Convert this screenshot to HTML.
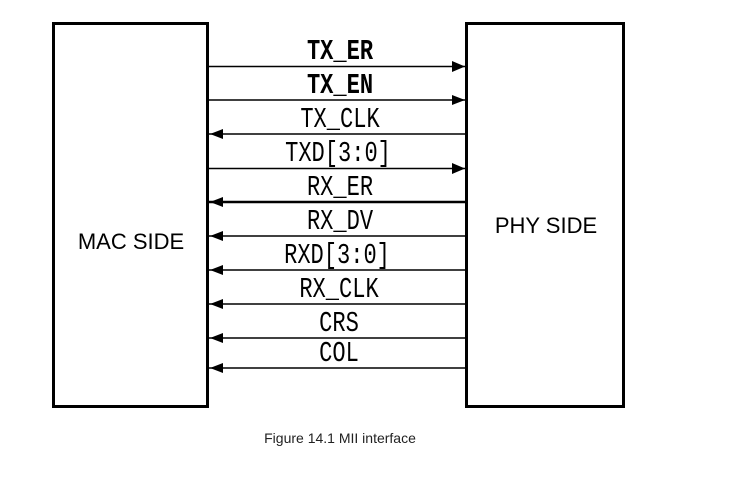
<!DOCTYPE html>
<html><head><meta charset="utf-8"><style>
html,body{margin:0;padding:0;background:#fff;}
</style></head><body>
<svg width="729" height="489" viewBox="0 0 729 489" xmlns="http://www.w3.org/2000/svg">
<rect x="53.5" y="23.5" width="154" height="383" fill="#fff" stroke="#000" stroke-width="3"/>
<rect x="466.5" y="23.5" width="157" height="383" fill="#fff" stroke="#000" stroke-width="3"/>
<text x="131" y="249" font-family="Liberation Sans, sans-serif" font-size="22" text-anchor="middle" fill="#000">MAC SIDE</text>
<text x="546" y="233" font-family="Liberation Sans, sans-serif" font-size="22" text-anchor="middle" fill="#000">PHY SIDE</text>
<g stroke="#000" stroke-width="1.5">
<line x1="208" y1="66.5" x2="465" y2="66.5"/>
<line x1="208" y1="100" x2="465" y2="100"/>
<line x1="208" y1="134" x2="465" y2="134"/>
<line x1="208" y1="168.5" x2="465" y2="168.5"/>
<line x1="208" y1="202" x2="465" y2="202" stroke-width="2.5"/>
<line x1="208" y1="236" x2="465" y2="236"/>
<line x1="208" y1="270" x2="465" y2="270"/>
<line x1="208" y1="304" x2="465" y2="304"/>
<line x1="208" y1="338" x2="465" y2="338"/>
<line x1="208" y1="368" x2="465" y2="368"/>
</g>
<g fill="#000">
<polygon points="452,61 465,66.5 452,72"/>
<polygon points="452,95 465,100 452,105"/>
<polygon points="223,129 210,134 223,139"/>
<polygon points="452,163 465,168.5 452,174"/>
<polygon points="223,197 210,202 223,207"/>
<polygon points="223,231 210,236 223,241"/>
<polygon points="223,265 210,270 223,275"/>
<polygon points="223,299 210,304 223,309"/>
<polygon points="223,333 210,338 223,343"/>
<polygon points="223,363 210,368 223,373"/>
</g>
<g font-family="Liberation Mono, monospace" font-size="21" text-anchor="middle" fill="#000">
<text transform="translate(340,59) scale(1.05,1.35)" font-weight="bold">TX_ER</text>
<text transform="translate(340,93) scale(1.05,1.35)" font-weight="bold">TX_EN</text>
<text transform="translate(340,127) scale(1.05,1.35)">TX_CLK</text>
<text transform="translate(338,161) scale(1.05,1.35)">TXD[3:0]</text>
<text transform="translate(340,195) scale(1.05,1.35)">RX_ER</text>
<text transform="translate(340,229) scale(1.05,1.35)">RX_DV</text>
<text transform="translate(337,263) scale(1.05,1.35)">RXD[3:0]</text>
<text transform="translate(339,297) scale(1.05,1.35)">RX_CLK</text>
<text transform="translate(339,331) scale(1.05,1.35)">CRS</text>
<text transform="translate(339,361) scale(1.05,1.35)">COL</text>
</g>
<text x="340" y="443" font-family="Liberation Sans, sans-serif" font-size="14" text-anchor="middle" fill="#222">Figure 14.1 MII interface</text>
</svg>
</body></html>
